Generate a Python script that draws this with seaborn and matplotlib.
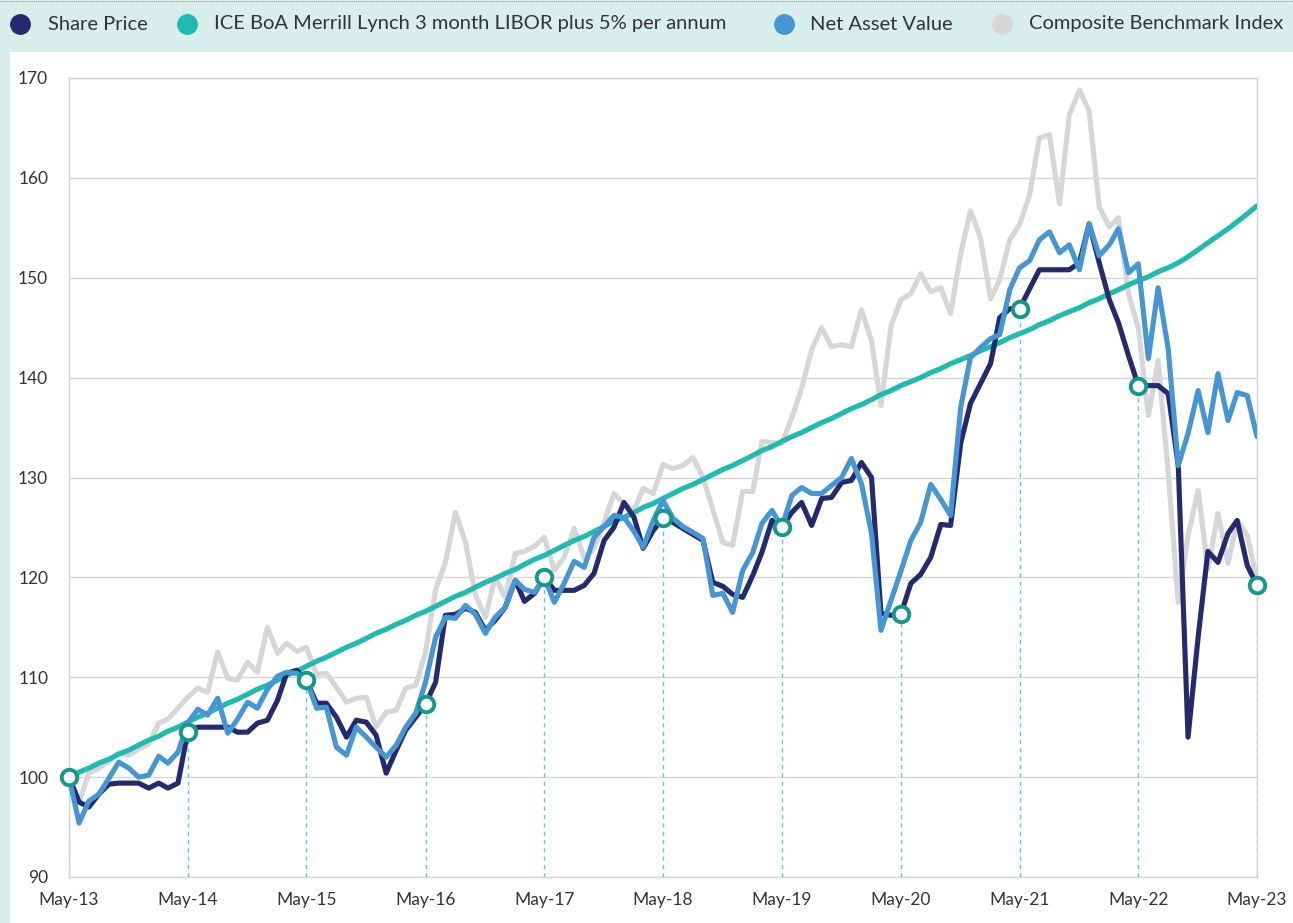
import numpy as np
import pandas as pd
import seaborn as sns
import matplotlib.pyplot as plt
import matplotlib.dates as mdates
from matplotlib.lines import Line2D
from matplotlib.patches import Rectangle

# monthly values, May-13 .. May-23 (rebased to 100)
share_price = [
    100.0, 97.5, 97.0, 98.3, 99.3, 99.4, 99.4, 99.4, 98.9, 99.4, 98.9, 99.4, 104.5,
    105.0, 105.0, 105.0, 105.0, 104.5, 104.5, 105.4, 105.7, 107.7, 110.4, 110.7, 109.7,
    107.4, 107.4, 106.0, 104.0, 105.7, 105.5, 104.2, 100.4, 102.7, 104.7, 106.0, 107.3,
    109.5, 116.2, 116.3, 116.9, 116.5, 114.7, 115.7, 117.0, 119.7, 117.6, 118.4, 120.0,
    118.7, 118.7, 118.7, 119.2, 120.4, 123.7, 125.0, 127.5, 126.0, 122.9, 124.7, 125.9,
    125.5, 124.9, 124.3, 123.7, 119.5, 119.1, 118.3, 118.0, 120.2, 122.5, 125.7, 125.0,
    126.5, 127.5, 125.2, 127.9, 128.0, 129.5, 129.7, 131.5, 130.0, 116.4, 116.2, 116.3,
    119.4, 120.3, 122.0, 125.3, 125.2, 133.4, 137.4, 139.4, 141.4, 146.0, 146.9, 146.9,
    148.9, 150.8, 150.8, 150.8, 150.8, 151.5, 155.4, 151.5, 147.8, 145.5, 142.2, 139.2,
    139.2, 139.2, 138.4, 131.2, 104.0, 114.0, 122.6, 121.5, 124.4, 125.7, 121.2, 119.2,
]
libor_plus5 = [
    100.0, 100.5, 100.9, 101.4, 101.8, 102.3, 102.7, 103.2, 103.7, 104.1, 104.6, 105.0, 105.5,
    106.0, 106.4, 106.9, 107.4, 107.8, 108.3, 108.8, 109.2, 109.7, 110.2, 110.6, 111.1,
    111.6, 112.0, 112.5, 113.0, 113.4, 113.9, 114.4, 114.8, 115.3, 115.7, 116.2, 116.6,
    117.1, 117.6, 118.1, 118.5, 119.0, 119.5, 119.9, 120.4, 120.8, 121.3, 121.8, 122.2,
    122.7, 123.2, 123.7, 124.1, 124.6, 125.1, 125.6, 126.0, 126.5, 127.0, 127.4, 127.9,
    128.4, 128.9, 129.3, 129.8, 130.3, 130.8, 131.2, 131.7, 132.2, 132.7, 133.1, 133.6,
    134.1, 134.5, 135.0, 135.5, 135.9, 136.4, 136.9, 137.3, 137.8, 138.3, 138.7, 139.2,
    139.6, 140.0, 140.5, 140.9, 141.4, 141.8, 142.2, 142.7, 143.1, 143.5, 144.0, 144.4,
    144.8, 145.3, 145.7, 146.2, 146.6, 147.0, 147.5, 147.9, 148.4, 148.8, 149.3, 149.7,
    150.1, 150.6, 151.0, 151.5, 152.1, 152.8, 153.5, 154.2, 154.9, 155.6, 156.4, 157.2,
]
nav = [
    100.0, 95.4, 97.6, 98.3, 99.9, 101.5, 100.9, 100.0, 100.2, 102.1, 101.4, 102.5, 105.4,
    106.8, 106.2, 107.9, 104.4, 105.8, 107.5, 106.9, 108.8, 110.1, 110.5, 110.4, 109.7,
    106.9, 107.0, 103.0, 102.2, 105.0, 104.0, 103.0, 102.0, 103.2, 105.0, 106.4, 109.5,
    114.0, 116.0, 115.9, 117.2, 116.3, 114.4, 116.0, 117.0, 119.7, 118.8, 118.5, 120.0,
    117.5, 119.4, 121.6, 121.0, 124.0, 125.1, 126.2, 126.0, 124.6, 123.0, 125.7, 127.7,
    125.9, 125.1, 124.5, 123.9, 118.2, 118.4, 116.5, 120.7, 122.5, 125.4, 126.7, 125.0,
    128.2, 129.0, 128.4, 128.4, 129.2, 130.0, 131.9, 129.4, 124.4, 114.7, 117.7, 120.6,
    123.7, 125.5, 129.3, 127.8, 126.2, 137.0, 142.0, 143.0, 143.9, 144.3, 148.8, 151.0,
    151.7, 153.8, 154.6, 152.5, 153.3, 150.8, 155.4, 152.2, 153.3, 154.9, 150.5, 151.4,
    141.9, 149.0, 142.9, 131.2, 134.4, 138.7, 134.5, 140.4, 135.7, 138.5, 138.2, 134.1,
]
benchmark = [
    100.0, 97.5, 100.4, 100.9, 101.6, 102.4, 102.2, 102.8, 103.3, 105.4, 105.8, 106.9, 108.0,
    108.9, 108.5, 112.5, 109.9, 109.7, 111.5, 110.5, 115.0, 112.4, 113.4, 112.6, 113.0,
    110.3, 110.4, 109.0, 107.5, 107.9, 108.0, 105.0, 106.5, 106.7, 108.9, 109.2, 112.5,
    118.8, 121.5, 126.5, 123.5, 118.3, 116.0, 120.0, 118.0, 122.4, 122.6, 123.1, 124.0,
    120.7, 122.0, 124.9, 121.9, 122.9, 125.5, 128.4, 127.4, 126.7, 128.9, 128.4, 131.3,
    130.9, 131.2, 132.0, 130.0, 126.8, 123.5, 123.2, 128.6, 128.6, 133.6, 133.5, 133.4,
    136.0, 138.9, 142.8, 145.0, 143.1, 143.3, 143.1, 146.8, 143.7, 137.2, 145.2, 147.8,
    148.4, 150.4, 148.6, 149.0, 146.4, 152.4, 156.7, 154.0, 147.9, 149.8, 153.8, 155.3,
    158.3, 164.0, 164.3, 157.4, 166.3, 168.8, 166.7, 157.1, 155.1, 156.0, 148.4, 145.0,
    136.2, 141.7, 130.5, 117.5, 124.2, 128.7, 120.8, 126.4, 121.4, 125.7, 124.2, 119.7,
]

labels = ["Share Price", "ICE BoA Merrill Lynch 3 month LIBOR plus 5% per annum",
          "Net Asset Value", "Composite Benchmark Index"]

months = pd.date_range("2013-05-01", periods=len(share_price), freq="MS")
df = pd.DataFrame({"date": months, labels[0]: share_price, labels[1]: libor_plus5,
                   labels[2]: nav, labels[3]: benchmark})

c_share = "#252a6f"
c_libor = "#1dbcaf"
c_nav = "#4596d4"
c_bench = "#d6d6d8"
c_marker = "#12998a"
c_text = "#333333"

sns.set_style("white")
plt.rcParams["font.family"] = ["Lato", "DejaVu Sans"]

W, H = 1293, 923
fig = plt.figure(figsize=(W / 100, H / 100), dpi=100)
fig.patch.set_facecolor("#d8eeeb")
fig.add_artist(Rectangle((10 / W, 0), 1, 1 - 52 / H, transform=fig.transFigure,
                         facecolor="white", edgecolor="none", zorder=0))
fig.add_artist(Line2D([0, 1], [0.999, 0.999], transform=fig.transFigure,
                      color="#999999", lw=0.8, ls=(0, (1, 1))))

ax = fig.add_axes([69 / W, 1 - 877 / H, (1257 - 69) / W, (877 - 78) / H])
ax.set_facecolor("white")

sns.lineplot(data=df, x="date", y=labels[3], color=c_bench, lw=3.7, ax=ax, zorder=2)
sns.lineplot(data=df, x="date", y=labels[1], color=c_libor, lw=3.7, ax=ax, zorder=3)
sns.lineplot(data=df, x="date", y=labels[0], color=c_share, lw=3.7, ax=ax, zorder=4)
sns.lineplot(data=df, x="date", y=labels[2], color=c_nav, lw=3.7, ax=ax, zorder=5)

# yearly markers on the share price with dashed drop lines
yearly = df.iloc[::12]
ax.vlines(yearly["date"], 90, yearly[labels[0]], colors="#5ccbcb", lw=1,
          linestyles=(0, (3, 3)), zorder=1)
sns.scatterplot(data=yearly, x="date", y=labels[0], s=125, facecolor="white",
                edgecolor=c_marker, linewidth=2.8, ax=ax, zorder=6, clip_on=False)

ax.set_ylim(90, 170)
ax.set_xlim(months[0], months[-1])
ax.set_yticks(range(90, 171, 10))
ax.set_xticks(yearly["date"])
ax.xaxis.set_major_formatter(mdates.DateFormatter("%b-%y"))
ax.set_xlabel("")
ax.set_ylabel("")
ax.grid(axis="y", color="#d4d4d4", lw=1)
ax.grid(axis="x", visible=False)
for s in ax.spines.values():
    s.set_color("#d4d4d4")
    s.set_linewidth(1)
ax.tick_params(axis="both", length=0, colors=c_text, labelsize=12.5)
ax.tick_params(axis="y", pad=15)
ax.tick_params(axis="x", pad=11)

# legend strip across the top
legend_marker_x = [20, 187, 784, 1002]
legend_text_x = [48, 214, 810, 1029]
ly = 1 - 24 / H
for mx, tx, c, lab in zip(legend_marker_x, legend_text_x,
                          [c_share, c_libor, c_nav, c_bench], labels):
    fig.add_artist(Line2D([mx / W], [ly], marker="o", ms=14, color=c, ls="none",
                          transform=fig.transFigure))
    fig.text(tx / W, ly, lab, fontsize=14.5, color=c_text, va="center", ha="left")

fig.savefig("out.png", dpi=100, facecolor=fig.get_facecolor())
